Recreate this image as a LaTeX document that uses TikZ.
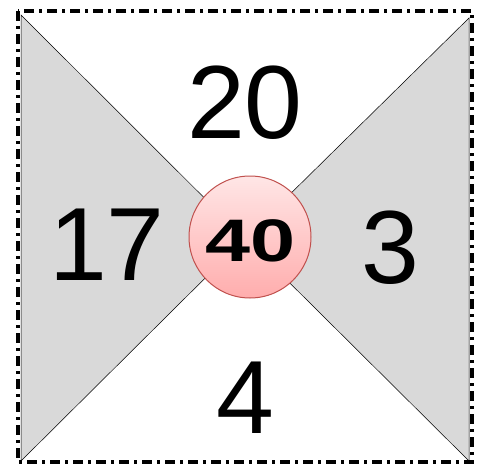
\documentclass[tikz,border=0pt]{standalone}
\usepackage{fontspec}
\setmainfont{Liberation Sans}
\definecolor{tri}{HTML}{D9D9D9}
\definecolor{ctop}{HTML}{FFE6E6}
\definecolor{cbot}{HTML}{FFADAD}
\definecolor{cedge}{HTML}{C0504D}
\begin{document}
\begin{tikzpicture}[x=1pt,y=-1pt,
  bigdigit/.style={font=\fontsize{104}{104}\selectfont, inner sep=0pt, text=black},
  tri/.style={fill=tri, draw=black, line width=0.5pt},
  border/.style={line width=3.5pt, dash pattern=on 10pt off 5pt on 3pt off 5pt}]
\useasboundingbox (0,0) rectangle (481,465);
\fill[white] (0,0) rectangle (481,465);
\coordinate (tl) at (21,15);
\coordinate (bl) at (21,461);
\coordinate (tr) at (469,18);
\coordinate (br) at (469,461);
\coordinate (m) at (245,238.5);
\draw[tri] (tl) -- (bl) -- (m) -- cycle;
\draw[tri] (tr) -- (br) -- (m) -- cycle;
\draw[border] (18,11) rectangle (472,462);
\node[circle, minimum size=122pt, draw=cedge, line width=1pt, top color=ctop, bottom color=cbot, inner sep=0pt] (c) at (250,237) {};
\node[font=\fontsize{60}{60}\selectfont\bfseries, inner sep=0pt, xscale=1.35] (forty) at (251,241) {40};
\node[bigdigit] (n20) at (245,103) {20};
\node[bigdigit] (n17) at (107,245) {17};
\node[bigdigit] (n3) at (390,248) {3};
\node[bigdigit] (n4) at (245,398) {4};
\end{tikzpicture}
\end{document}
